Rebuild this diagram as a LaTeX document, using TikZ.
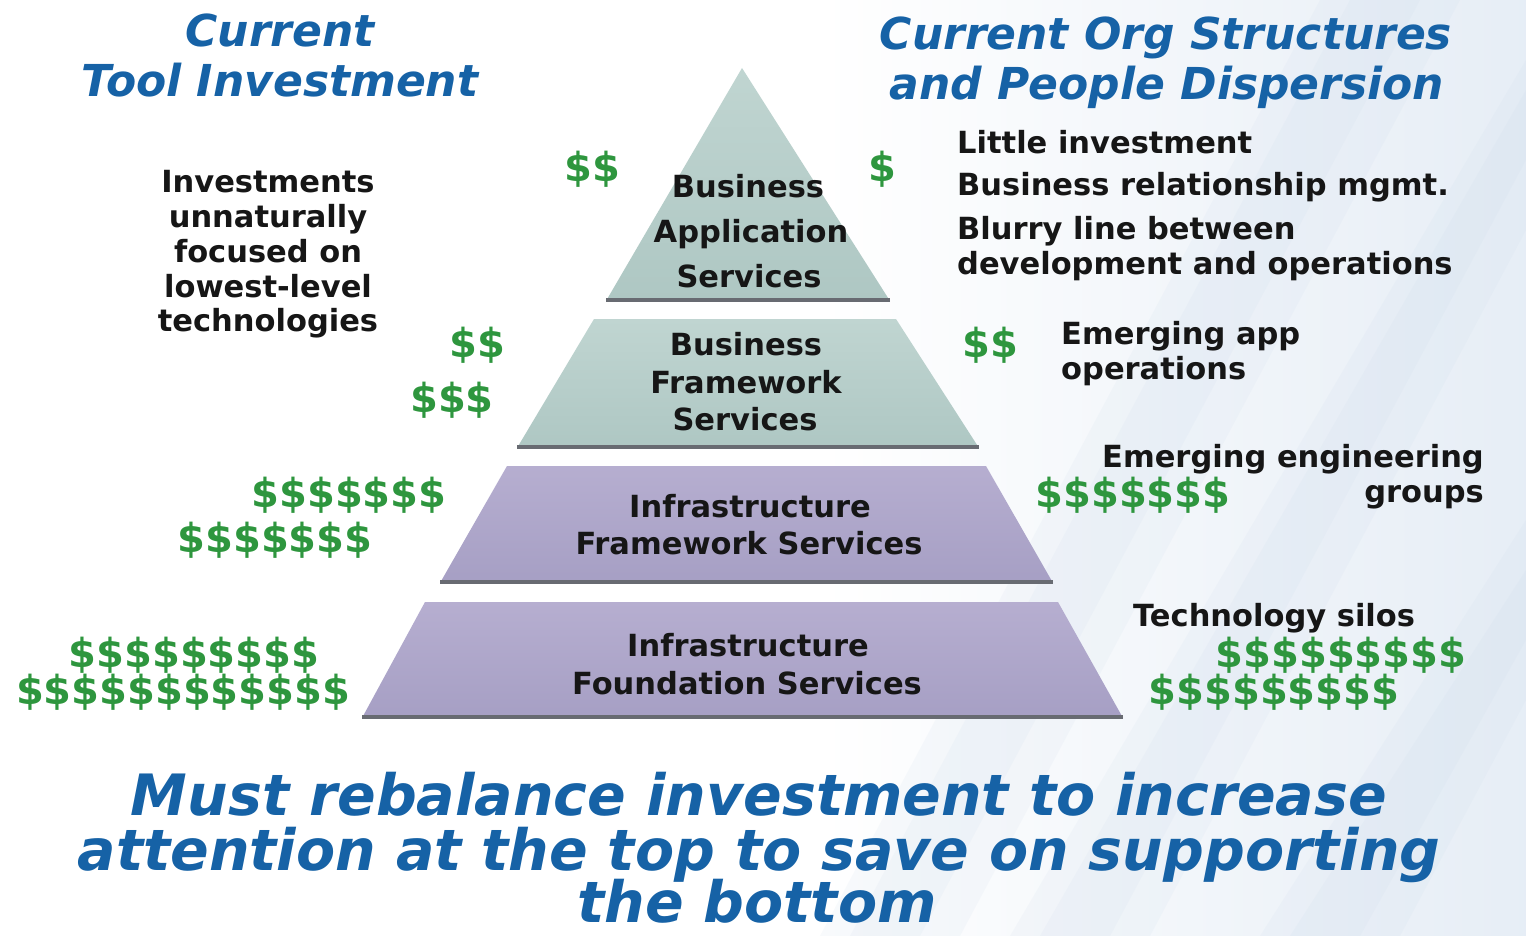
\documentclass[tikz,border=0pt]{standalone}
\usepackage{fontspec}
\setmainfont{DejaVu Sans}
\usetikzlibrary{fadings}
\definecolor{ttlblue}{RGB}{22,98,166}
\definecolor{dolgreen}{RGB}{46,150,62}
\definecolor{txtblk}{RGB}{22,22,22}
\definecolor{tealA}{RGB}{192,213,209}
\definecolor{tealB}{RGB}{174,199,195}
\definecolor{lavA}{RGB}{182,174,208}
\definecolor{lavB}{RGB}{166,159,196}
\definecolor{shadowgrey}{RGB}{104,107,114}
\definecolor{streak}{RGB}{200,216,234}
\begin{document}
\begin{tikzpicture}[x=1pt,y=-1pt,
  blk/.style={font=\fontsize{30.5}{30.5}\selectfont\bfseries, text=txtblk, inner sep=0pt},
  ttl/.style={font=\fontsize{44}{44}\selectfont\bfseries\itshape, text=ttlblue, inner sep=0pt},
  bigmsg/.style={font=\fontsize{57}{57}\selectfont\bfseries\itshape, text=ttlblue, inner sep=0pt},
  dol/.style={font=\fontsize{40}{40}\selectfont\bfseries, text=dolgreen, inner sep=0pt},
  layerteal/.style={top color=tealA, bottom color=tealB, draw=none},
  layerlav/.style={top color=lavA, bottom color=lavB, draw=none},
  layeredge/.style={draw=shadowgrey, line width=4pt},
  band/.style={fill=streak, draw=none},
]
\useasboundingbox (0,0) rectangle (1526,936);
\clip (0,0) rectangle (1526,936);
% background
\fill[white] (0,0) rectangle (1526,936);
\shade[left color=white, right color=streak!45] (820,0) rectangle (1526,936);
\begin{scope}[opacity=0.12]
  \fill[band] (820,936) -- (960,936) -- (1460,0) -- (1320,0) -- cycle;
  \fill[band] (850,936) -- (920,936) -- (1420,0) -- (1350,0) -- cycle;
  \fill[band] (1010,936) -- (1150,936) -- (1526,230) -- (1526,60) -- cycle;
  \fill[band] (1040,936) -- (1110,936) -- (1526,160) -- (1526,90) -- cycle;
  \fill[band] (1260,936) -- (1400,936) -- (1526,700) -- (1526,520) -- cycle;
  \fill[band] (1290,936) -- (1360,936) -- (1526,640) -- (1526,570) -- cycle;
\end{scope}

% pyramid layers
\path[layerteal] (742,68) -- (890,301) -- (606,301) -- cycle;
\draw[layeredge] (606,300) -- (890,300);
\path[layerteal] (594,319) -- (896,319) -- (979,448) -- (517,448) -- cycle;
\draw[layeredge] (517,447) -- (979,447);
\path[layerlav] (507,466) -- (986,466) -- (1053,583) -- (440,583) -- cycle;
\draw[layeredge] (440,582) -- (1053,582);
\path[layerlav] (425,602) -- (1058,602) -- (1123,718) -- (362,718) -- cycle;
\draw[layeredge] (362,717) -- (1123,717);

% titles
\node[ttl, anchor=base] (t1a) at (280,47) {Current};
\node[ttl, anchor=base] (t1b) at (280,97) {Tool Investment};
\node[ttl, anchor=base] (t2a) at (1166,50) {Current Org Structures};
\node[ttl, anchor=base] (t2b) at (1167,100) {and People Dispersion};

% left text
\node[blk, anchor=base] (l1) at (268,193) {Investments};
\node[blk, anchor=base] (l2) at (268,228) {unnaturally};
\node[blk, anchor=base] (l3) at (268,262) {focused on};
\node[blk, anchor=base] (l4) at (268,297) {lowest-level};
\node[blk, anchor=base] (l5) at (268,331) {technologies};

% right text
\node[blk, anchor=base west] (r1) at (957,154) {Little investment};
\node[blk, anchor=base west] (r2) at (957,196) {Business relationship mgmt.};
\node[blk, anchor=base west] (r3) at (957,240) {Blurry line between};
\node[blk, anchor=base west] (r4) at (957,274) {development and operations};
\node[blk, anchor=base west] (r5) at (1061,344) {Emerging app};
\node[blk, anchor=base west] (r6) at (1061,379) {operations};
\node[blk, anchor=base east] (r7) at (1484,467) {Emerging engineering};
\node[blk, anchor=base east] (r8) at (1484,502) {groups};
\node[blk, anchor=base west] (r9) at (1133,626) {Technology silos};

% pyramid labels
\node[blk, anchor=base] (p1a) at (748,198) {Business};
\node[blk, anchor=base] (p1b) at (751,243) {Application};
\node[blk, anchor=base] (p1c) at (749,287) {Services};
\node[blk, anchor=base] (p2a) at (746,355) {Business};
\node[blk, anchor=base] (p2b) at (746,393) {Framework};
\node[blk, anchor=base] (p2c) at (745,430) {Services};
\node[blk, anchor=base] (p3a) at (750,517) {Infrastructure};
\node[blk, anchor=base] (p3b) at (749,554) {Framework Services};
\node[blk, anchor=base] (p4a) at (748,656) {Infrastructure};
\node[blk, anchor=base] (p4b) at (747,694) {Foundation Services};

% dollars
\node[dol, anchor=base] (d1) at (592,182) {\$\$};
\node[dol, anchor=base] (d2) at (882,182) {\$};
\node[dol, anchor=base] (d3) at (477,357) {\$\$};
\node[dol, anchor=base] (d4) at (452,412) {\$\$\$};
\node[dol, anchor=base] (d5) at (990,357) {\$\$};
\node[dol, anchor=base] (d6) at (349,507) {\$\$\$\$\$\$\$};
\node[dol, anchor=base] (d7) at (275,552) {\$\$\$\$\$\$\$};
\node[dol, anchor=base] (d8) at (1133,507) {\$\$\$\$\$\$\$};
\node[dol, anchor=base] (d9) at (194,667) {\$\$\$\$\$\$\$\$\$};
\node[dol, anchor=base] (d10) at (183,704) {\$\$\$\$\$\$\$\$\$\$\$\$};
\node[dol, anchor=base] (d11) at (1341,667) {\$\$\$\$\$\$\$\$\$};
\node[dol, anchor=base] (d12) at (1274,704) {\$\$\$\$\$\$\$\$\$};

% bottom message
\node[bigmsg, anchor=base] (m1) at (759,815) {Must rebalance investment to increase};
\node[bigmsg, anchor=base] (m2) at (759,870) {attention at the top to save on supporting};
\node[bigmsg, anchor=base] (m3) at (757,922) {the bottom};
\end{tikzpicture}
\end{document}
